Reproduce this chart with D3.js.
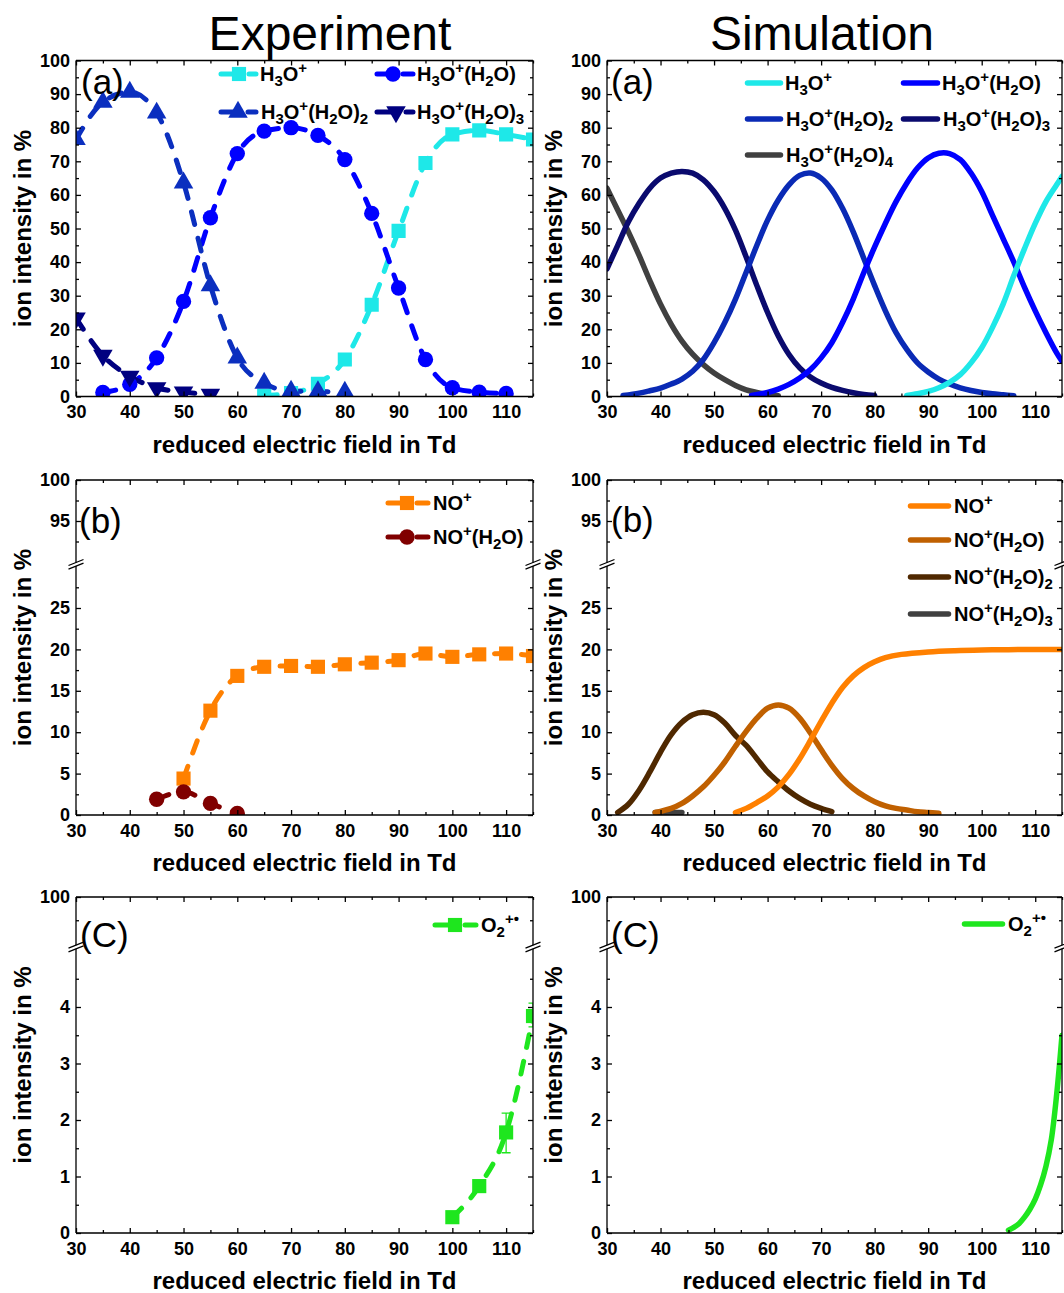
<!DOCTYPE html>
<html><head><meta charset="utf-8">
<script src="https://cdn.jsdelivr.net/npm/d3@7"></script>
<style>body{margin:0;background:#fff} svg{display:block}</style>
</head><body><svg id="c" width="1064" height="1293"></svg>
<script>
// ---------------- data ----------------
const xTickVals = [30,40,50,60,70,80,90,100,110];
const xMinorVals = [35,45,55,65,75,85,95,105,115];
const yTicksA = [0,10,20,30,40,50,60,70,80,90,100];
const yMinorA = [5,15,25,35,45,55,65,75,85,95];
const yTicksB = [0,5,10,15,20,25,95,100];
const yMinorB = [2.5,7.5,12.5,17.5,22.5,27.5,92.5,97.5];
const yTicksC = [0,1,2,3,4,100];
const yMinorC = [0.5,1.5,2.5,3.5,4.5,99.5];

// Experiment (a)
const expH3O   = [[65,0.3],[70,1.0],[75,3.8],[80,11],[85,27.3],[90,49.3],[95,69.5],[100,78],[105,79.2],[110,78],[115,76.5]];
const expH3O_1 = [[35,1.2],[40,3.6],[45,11.5],[50,28.3],[55,53.2],[60,72.3],[65,79],[70,80],[75,77.7],[80,70.5],[85,54.5],[90,32.3],[95,11],[100,2.6],[105,1.3],[110,0.9]];
const expH3O_2 = [[30,76.5],[35,87.6],[40,90.6],[45,84.4],[50,63.6],[55,33],[60,11.5],[65,4],[70,1.6],[75,1.5],[80,1.3]];
const expH3O_3 = [[30,23.3],[35,12.2],[40,6],[45,2.6],[50,1.3],[55,0.6]];
// Simulation (a)
const simH3O   = [[86,0.3],[88,0.8],[90,1.5],[92,2.6],[94,4.2],[96,6.5],[98,10],[100,14.5],[102,20.5],[104,27.5],[106,36],[108,44],[110,51.5],[112,58],[114,63],[115,65.5]];
const simH3O_1 = [[57,0.3],[60,1.2],[62,2.2],[64,3.6],[66,5.5],[68,8],[70,11.5],[72,16],[74,22],[76,29],[78,37],[80,44.5],[82,51.5],[84,58],[86,63.5],[88,68],[90,71],[92,72.4],[94,72.3],[96,70.5],[98,66.5],[100,61],[102,54],[104,47],[106,40],[108,32.5],[110,25.5],[112,19],[114,13],[115,10.5]];
const simH3O_2 = [[33,0.3],[36,1],[38,1.7],[40,2.5],[42,3.7],[44,5.2],[46,7.5],[48,11],[50,16],[52,22],[54,29],[56,37],[58,45],[60,52.5],[62,58.5],[64,63],[66,65.8],[68,66.5],[70,65],[72,61.5],[74,56],[76,49],[78,41],[80,33],[82,25.5],[84,19],[86,14],[88,10],[90,7.3],[92,5.2],[94,3.7],[96,2.6],[98,1.8],[100,1.2],[102,0.8],[104,0.5],[106,0.2]];
const simH3O_3 = [[30,38],[32,45],[34,52],[36,57.5],[38,62],[40,65],[42,66.5],[44,67],[46,66.5],[48,64.5],[50,61],[52,56],[54,49.5],[56,41.5],[58,33],[60,25],[62,18],[64,12.5],[66,8.5],[68,5.8],[70,4],[72,2.7],[74,1.8],[76,1.1],[78,0.6],[80,0.3]];
const simH3O_4 = [[30,62],[32,55.5],[34,49],[36,42],[38,34.5],[40,27.5],[42,21.5],[44,16.5],[46,12.6],[48,9.5],[50,7],[52,5],[54,3.3],[56,2],[58,1.2],[60,0.6],[62,0.2]];
// Experiment (b)
const expNO   = [[50,4.4],[55,12.6],[60,16.8],[65,17.9],[70,18],[75,17.9],[80,18.2],[85,18.4],[90,18.7],[95,19.5],[100,19.1],[105,19.4],[110,19.5],[115,19.2]];
const expNO_1 = [[45,1.9],[50,2.8],[55,1.4],[60,0.2]];
// Simulation (b)
const simNO   = [[54,0.3],[56,0.8],[58,1.5],[60,2.3],[62,3.4],[64,4.9],[66,6.8],[68,9.0],[70,11.3],[72,13.5],[74,15.4],[76,16.8],[78,17.8],[80,18.5],[82,19],[85,19.4],[90,19.7],[95,19.85],[100,19.93],[105,19.97],[110,20],[115,20]];
const simNO_1 = [[39,0.3],[42,0.8],[44,1.4],[46,2.3],[48,3.4],[50,4.8],[52,6.4],[54,8.3],[56,10.1],[58,11.7],[60,12.9],[62,13.3],[64,12.9],[66,11.7],[68,9.9],[70,7.9],[72,6],[74,4.4],[76,3.2],[78,2.3],[80,1.6],[82,1.1],[84,0.8],[86,0.6],[88,0.4],[90,0.3],[92,0.2]];
const simNO_2 = [[32,0.3],[34,1.3],[36,3],[38,5.2],[40,7.6],[42,9.7],[44,11.2],[46,12.1],[48,12.4],[50,12.1],[52,11.1],[54,9.6],[56,8.4],[58,6.8],[60,5.2],[62,4],[64,2.9],[66,2],[68,1.3],[70,0.8],[72,0.4]];
const simNO_3 = [[39,0.3],[41,0.32],[43,0.3],[44,0.3]];
// Experiment (c)
const expO2    = [[100,0.28],[105,0.83],[110,1.78],[115,3.84]];
const expO2Err = [[110,1.42,2.12],[115,3.65,4.07]];
// Simulation (c)
const simO2 = [[105,0.05],[106,0.1],[107,0.17],[108,0.28],[109,0.42],[110,0.6],[111,0.85],[112,1.18],[113,1.65],[114,2.45],[115,3.5]];

// ---------------- drawing ----------------
const FONT = '"Liberation Sans", Arial, Helvetica, sans-serif';
const svg = d3.select("#c");
const C = {
  cyan:"#1ee8e8", blue:"#0000ff", royal:"#0b2fbf", navy:"#000080",
  sroyal:"#0a2ab5", snavy:"#0a0a6e", gray:"#404040",
  orange:"#ff8000", dred:"#800000", brorange:"#c06000", brown:"#4f2800",
  green:"#1ee61e"
};

svg.append("text").attr("x",330).attr("y",50).attr("text-anchor","middle")
  .attr("font-family",FONT).attr("font-size",48).text("Experiment");
svg.append("text").attr("x",822).attr("y",50).attr("text-anchor","middle")
  .attr("font-family",FONT).attr("font-size",48).text("Simulation");

function parts(s){
  const out=[]; let i=0, buf='';
  while(i<s.length){
    const c=s[i];
    if(c==='_'||c==='^'){
      if(buf){out.push({t:buf,k:'n'});buf='';}
      let v;
      if(s[i+1]==='{'){const j=s.indexOf('}',i); v=s.slice(i+2,j); i=j+1;}
      else {v=s[i+1]; i+=2;}
      out.push({t:v,k:c==='_'?'sub':'sup'});
    } else {buf+=c;i++;}
  }
  if(buf) out.push({t:buf,k:'n'});
  return out;
}
function richText(g,x,y,s){
  const t=g.append("text").attr("x",x).attr("y",y).attr("font-family",FONT)
    .attr("font-weight","bold").attr("font-size",20).attr("fill","#000");
  const off={n:0,sub:5,sup:-8}; let cur=0;
  parts(s).forEach(p=>{
    t.append("tspan").attr("dy",off[p.k]-cur).attr("font-size",p.k==='n'?20:15).text(p.t);
    cur=off[p.k];
  });
}
const symType = {square:d3.symbolSquare, circle:d3.symbolCircle, triangle:d3.symbolTriangle, tridown:d3.symbolTriangle};
const symSize = {square:200, circle:185, triangle:165, tridown:165};
function marker(g,type,x,y,color){
  g.append("path").attr("d",d3.symbol().type(symType[type]).size(symSize[type])())
   .attr("transform",`translate(${x},${y})`+(type==='tridown'?' rotate(180)':''))
   .attr("fill",color);
}

let clipId=0;
function panel(cfg){
  const {x0,x1,y0,y1} = cfg;
  const g = svg.append("g");
  const x = d3.scaleLinear().domain([30,115]).range([x0,x1]);
  const y = d3.scaleLinear().domain(cfg.yDomain).range(cfg.yRange);
  const id = "clip"+(clipId++);
  g.append("clipPath").attr("id",id).append("rect")
    .attr("x",x0).attr("y",y0).attr("width",x1-x0).attr("height",y1-y0);
  const data = g.append("g").attr("clip-path",`url(#${id})`);
  cfg.series.forEach(s=>{
    const line = d3.line().x(d=>x(d[0])).y(d=>y(d[1]))
      .curve(s.dashed ? d3.curveMonotoneX : d3.curveCatmullRom.alpha(0.5));
    const p = data.append("path").attr("d",line(s.data)).attr("fill","none")
      .attr("stroke",s.color).attr("stroke-width",s.dashed?5:5.5)
      .attr("stroke-linecap","round").attr("stroke-linejoin","round");
    if(s.dashed) p.attr("stroke-dasharray","13 14");
  });
  cfg.series.forEach(s=>{
    if(s.err) s.err.forEach(e=>{
      const ex=x(e[0]);
      data.append("path").attr("d",`M${ex},${y(e[1])}V${y(e[2])}M${ex-4.5},${y(e[1])}H${ex+4.5}M${ex-4.5},${y(e[2])}H${ex+4.5}`)
        .attr("stroke",s.color).attr("stroke-width",1.3).attr("fill","none");
    });
    if(s.marker) s.data.forEach(d=>marker(data,s.marker,x(d[0]),y(d[1]),s.color));
  });

  // axes
  const ax = g.append("g").attr("font-family",FONT);
  const styleAxis = sel => { sel.attr("font-family",FONT).attr("color","#000");
    sel.select(".domain").remove();
    sel.selectAll(".tick line").attr("stroke-width",1.3);
    sel.selectAll("text").attr("font-size",18).attr("font-weight","bold"); };
  ax.append("g").attr("transform",`translate(0,${y1})`)
    .call(d3.axisBottom(x).tickValues(xTickVals).tickSize(-5).tickPadding(9).tickFormat(d3.format("d"))).call(styleAxis);
  ax.append("g").attr("transform",`translate(0,${y1})`)
    .call(d3.axisBottom(x).tickValues(xMinorVals).tickSize(-3).tickFormat("")).call(styleAxis);
  ax.append("g").attr("transform",`translate(0,${y0})`)
    .call(d3.axisTop(x).tickValues(xTickVals).tickSize(-5).tickFormat("")).call(styleAxis);
  ax.append("g").attr("transform",`translate(0,${y0})`)
    .call(d3.axisTop(x).tickValues(xMinorVals).tickSize(-3).tickFormat("")).call(styleAxis);
  ax.append("g").attr("transform",`translate(${x0},0)`)
    .call(d3.axisLeft(y).tickValues(cfg.yTicks).tickSize(-5).tickPadding(6).tickFormat(d3.format("d"))).call(styleAxis);
  ax.append("g").attr("transform",`translate(${x0},0)`)
    .call(d3.axisLeft(y).tickValues(cfg.yMinor).tickSize(-3).tickFormat("")).call(styleAxis);
  ax.append("g").attr("transform",`translate(${x1},0)`)
    .call(d3.axisRight(y).tickValues(cfg.yTicks).tickSize(-5).tickFormat("")).call(styleAxis);
  ax.append("g").attr("transform",`translate(${x1},0)`)
    .call(d3.axisRight(y).tickValues(cfg.yMinor).tickSize(-3).tickFormat("")).call(styleAxis);

  // frame
  const fr = g.append("g").attr("stroke","#000").attr("stroke-width",1.3).attr("fill","none");
  fr.append("path").attr("d",`M${x0},${y0}H${x1}M${x0},${y1}H${x1}`);
  if(cfg.brk){
    const b=cfg.brk;
    [x0,x1].forEach(xx=>{
      fr.append("path").attr("d",`M${xx},${y0}V${b-1.8}M${xx},${b+1.8}V${y1}`);
      fr.append("path").attr("d",`M${xx-7.5},${b+1.2}L${xx+7.5},${b-4.8}M${xx-7.5},${b+4.8}L${xx+7.5},${b-1.2}`);
    });
  } else {
    fr.append("path").attr("d",`M${x0},${y0}V${y1}M${x1},${y0}V${y1}`);
  }

  // titles
  g.append("text").attr("x",(x0+x1)/2).attr("y",y1+56).attr("text-anchor","middle")
    .attr("font-family",FONT).attr("font-weight","bold").attr("font-size",24)
    .text("reduced electric field in Td");
  g.append("text").attr("transform",`translate(${x0-45},${(y0+y1)/2}) rotate(-90)`)
    .attr("text-anchor","middle").attr("font-family",FONT).attr("font-weight","bold")
    .attr("font-size",24).text("ion intensity in %");
  g.append("text").attr("x",x0+cfg.lx).attr("y",y0+cfg.ly).attr("font-family",FONT)
    .attr("font-size",35).text(cfg.label);

  // legend
  cfg.legend.forEach(L=>{
    if(L.dashed){
      g.append("path").attr("d",`M${L.a+2},${L.y}H${L.m}M${L.m+10},${L.y}H${L.b-2}`)
        .attr("stroke",L.color).attr("stroke-width",5).attr("stroke-linecap","round");
      marker(g,L.marker,L.m,L.y,L.color);
    } else {
      g.append("path").attr("d",`M${L.a+2.5},${L.y}H${L.b-2.5}`)
        .attr("stroke",L.color).attr("stroke-width",5.5).attr("stroke-linecap","round");
    }
    richText(g,L.tx,L.y+7,L.text);
  });
}

const LX=[76,533], RX=[607,1062];
const rowA={y0:60.5,y1:396.5, yDomain:[0,100], yRange:[396.5,60.5], yTicks:yTicksA, yMinor:yMinorA};
const rowB={y0:480,y1:815, yDomain:[0,30,90,100], yRange:[815,566.6,562,480], yTicks:yTicksB, yMinor:yMinorB, brk:564.3};
const rowC={y0:897,y1:1233, yDomain:[0,5,99,100], yRange:[1233,950.5,943.5,897], yTicks:yTicksC, yMinor:yMinorC, brk:947};

panel(Object.assign({x0:LX[0],x1:LX[1],label:"(a)",lx:5,ly:33,
  series:[
    {data:expH3O,color:C.cyan,dashed:true,marker:"square"},
    {data:expH3O_1,color:C.blue,dashed:true,marker:"circle"},
    {data:expH3O_2,color:C.royal,dashed:true,marker:"triangle"},
    {data:expH3O_3,color:C.navy,dashed:true,marker:"tridown"}],
  legend:[
    {a:219,b:258,m:239,y:74,color:C.cyan,dashed:true,marker:"square",tx:260,text:"H_3O^+"},
    {a:375,b:415,m:393,y:74,color:C.blue,dashed:true,marker:"circle",tx:417,text:"H_3O^+(H_2O)"},
    {a:219,b:258,m:238,y:112,color:C.royal,dashed:true,marker:"triangle",tx:261,text:"H_3O^+(H_2O)_2"},
    {a:375,b:415,m:396,y:112,color:C.navy,dashed:true,marker:"tridown",tx:417,text:"H_3O^+(H_2O)_3"}]
},rowA));

panel(Object.assign({x0:RX[0],x1:RX[1],label:"(a)",lx:4,ly:33,
  series:[
    {data:simH3O_4,color:C.gray},
    {data:simH3O_3,color:C.snavy},
    {data:simH3O_2,color:C.sroyal},
    {data:simH3O_1,color:C.blue},
    {data:simH3O,color:C.cyan}],
  legend:[
    {a:745,b:783,y:83,color:C.cyan,tx:785,text:"H_3O^+"},
    {a:901,b:940,y:83,color:C.blue,tx:942,text:"H_3O^+(H_2O)"},
    {a:745,b:783,y:119,color:C.sroyal,tx:786,text:"H_3O^+(H_2O)_2"},
    {a:901,b:940,y:119,color:C.snavy,tx:943,text:"H_3O^+(H_2O)_3"},
    {a:745,b:783,y:155,color:C.gray,tx:786,text:"H_3O^+(H_2O)_4"}]
},rowA));

panel(Object.assign({x0:LX[0],x1:LX[1],label:"(b)",lx:3,ly:53,
  series:[
    {data:expNO,color:C.orange,dashed:true,marker:"square"},
    {data:expNO_1,color:C.dred,dashed:true,marker:"circle"}],
  legend:[
    {a:386,b:430,m:407,y:503,color:C.orange,dashed:true,marker:"square",tx:433,text:"NO^+"},
    {a:386,b:430,m:407,y:537,color:C.dred,dashed:true,marker:"circle",tx:433,text:"NO^+(H_2O)"}]
},rowB));

panel(Object.assign({x0:RX[0],x1:RX[1],label:"(b)",lx:4,ly:52,
  series:[
    {data:simNO_3,color:C.gray},
    {data:simNO_2,color:C.brown},
    {data:simNO_1,color:C.brorange},
    {data:simNO,color:C.orange}],
  legend:[
    {a:908,b:951,y:506,color:C.orange,tx:954,text:"NO^+"},
    {a:908,b:951,y:540,color:C.brorange,tx:954,text:"NO^+(H_2O)"},
    {a:908,b:951,y:577,color:C.brown,tx:954,text:"NO^+(H_2O)_2"},
    {a:908,b:951,y:614,color:C.gray,tx:954,text:"NO^+(H_2O)_3"}]
},rowB));

panel(Object.assign({x0:LX[0],x1:LX[1],label:"(C)",lx:4,ly:50,
  series:[
    {data:expO2,color:C.green,dashed:true,marker:"square",err:expO2Err}],
  legend:[
    {a:433,b:478,m:455,y:925,color:C.green,dashed:true,marker:"square",tx:481,text:"O_2^{+•}"}]
},rowC));

panel(Object.assign({x0:RX[0],x1:RX[1],label:"(C)",lx:4,ly:50,
  series:[
    {data:simO2,color:C.green}],
  legend:[
    {a:962,b:1005,y:924,color:C.green,tx:1008,text:"O_2^{+•}"}]
},rowC));
</script>
</body></html>
